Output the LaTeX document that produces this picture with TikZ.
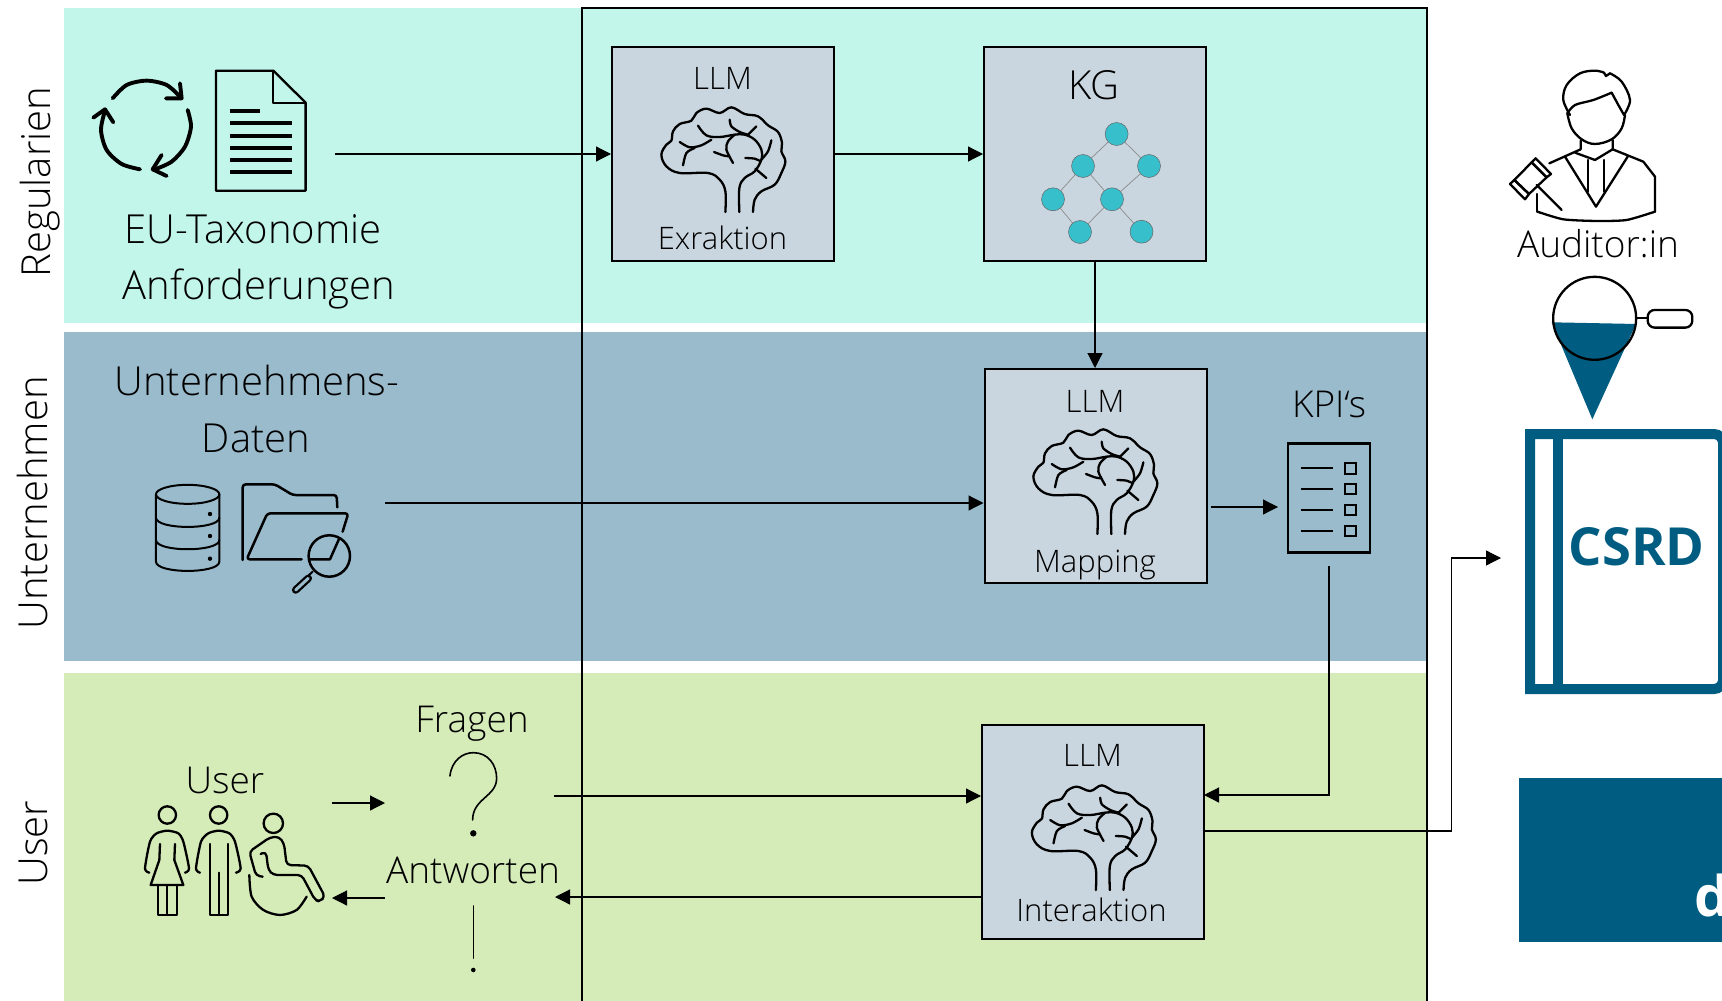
\documentclass[tikz,border=0pt]{standalone}
\usepackage{fontspec}
\setmainfont{Open Sans}[UprightFont=* Light,BoldFont=* Bold]
\usetikzlibrary{arrows.meta,  % arrow tips
  positioning}
\definecolor{regband}{HTML}{C3F6EA}
\definecolor{compband}{HTML}{9ABBCC}
\definecolor{userband}{HTML}{D5ECB9}
\definecolor{boxfill}{HTML}{C9D6DF}
\definecolor{csrdblue}{HTML}{005C80}
\definecolor{kgcyan}{HTML}{38BFCC}

\tikzset{
  % drawn in the pixels of a 3x crop
  zoomed/.style={x=.3333pt,y=-.3333pt},
  icon/.style={line width=2.3pt,line join=round,line cap=round},
  brain/.pic={
    \begin{scope}[zoomed,shift={(-350,-360)},icon,line width=2.3pt]
      \draw plot[smooth,tension=.6] coordinates {(352,522) (352,460) (335,425) (300,405) (215,405) (175,385) (160,350) (175,320) (190,308) (195,280) (215,258) (250,248) (265,225) (295,212) (335,225) (370,208) (410,228) (450,235) (480,262) (510,282) (522,315) (520,340) (532,370) (520,405) (500,440) (460,460) (440,485) (435,522)};
      \draw plot[smooth,tension=.6] coordinates {(394,522) (394,450) (410,420) (440,400) (460,365) (460,335) (440,305) (410,290) (380,290) (335,297) (295,292) (270,263)};
      \draw plot[smooth] coordinates {(380,290) (360,310) (355,335) (375,375)};
      \draw plot[smooth] coordinates {(318,342) (345,352) (362,355)};
      \draw plot[smooth] coordinates {(365,245) (370,265) (395,282) (420,290)};
      \draw (420,290) -- (445,265);
      \draw plot[smooth] coordinates {(490,307) (480,340) (460,365)};
      \draw plot[smooth] coordinates {(412,360) (440,362) (458,370)};
      \draw (442,392) -- (475,420);
      \draw plot[smooth] coordinates {(215,312) (245,328) (280,322) (310,305)};
      \draw plot[smooth] coordinates {(260,330) (235,345) (225,382)};
    \end{scope}
  }
}

\begin{document}
\begin{tikzpicture}[x=1pt,y=-1pt,>={Triangle[length=15pt,width=15pt]},
  % styles for the boxes, labels and arrows
  box/.style={draw=black,fill=boxfill,line width=2pt,minimum width=222pt,minimum height=214pt,inner sep=0pt},
  big/.style={anchor=base,inner sep=0pt,text=black,font=\fontsize{40}{46}\selectfont},
  mid/.style={anchor=base,inner sep=0pt,text=black,font=\fontsize{37}{43}\selectfont},
  small/.style={anchor=base,inner sep=0pt,text=black,font=\fontsize{31}{37}\selectfont},
  side/.style={rotate=90,inner sep=0pt,text=black,font=\fontsize{40}{46}\selectfont},
  flow/.style={->,line width=1.2pt,draw=black},
  graphnode/.style={circle,draw=black!60,fill=kgcyan,line width=.5pt,minimum size=23pt,inner sep=0pt},
  graphedge/.style={draw=black!45,line width=.7pt}]

  \useasboundingbox (0,0) rectangle (1722,1001);

  \fill[regband] (64,8) rectangle (1427,323);
  \fill[compband] (64,332) rectangle (1427,661);
  \fill[userband] (64,673) rectangle (1427,1001);
  \draw[line width=2.4pt] (582,1001) |- (1427,8) -- (1427,1001);

  \node[side] (reglabel) at (40,182) {Regularien};
  \node[side] (complabel) at (32,503) {Unternehmen};
  \node[side] (userlabel) at (33,843) {User};

  % the three rows of boxes
  \node[box] (extract) at (723,154) {};
  \node[box] (kg) at (1095,154) {};
  \node[box] (mapping) at (1095.5,476) {};
  \node[box] (interact) at (1093,831.5) {};
  \node[draw,line width=2.3pt,minimum width=82pt,minimum height=109pt,inner sep=0pt] (kpi) at (1329,498) {};

  \node[small] (llmA) at (722.5,89) {LLM};
  \node[small] (extractlabel) at (722.5,249) {Exraktion};
  \node[big] (kglabel) at (1094,99) {KG};
  \node[small] (llmB) at (1095,412) {LLM};
  \node[small] (maplabel) at (1095,572) {Mapping};
  \node[small] (llmC) at (1092.5,766.5) {LLM};
  \node[small] (interlabel) at (1091.5,921) {Interaktion};
  \node[mid] (kpilabel) at (1329,417) {KPI‘s};

  \node[big] (eulabel) at (253,243) {EU-Taxonomie};
  \node[big] (anflabel) at (259,299) {Anforderungen};
  \node[big] (datalabelA) at (257,395) {Unternehmens-};
  \node[big] (datalabelB) at (256,452) {Daten};
  \node[mid] (userword) at (225,793) {User};
  \node[mid] (fragenlabel) at (472,732) {Fragen};
  \node[mid] (antlabel) at (473,883) {Antworten};
  \node[mid] (auditorlabel) at (1598,257) {Auditor:in};

  \pic (brainA) at (724.7,158) {brain};
  \pic (brainB) at (1096.7,480) {brain};
  \pic (brainC) at (1095.2,836) {brain};

  % knowledge graph
  \node[graphnode] (g1) at (1116.6,134) {};
  \node[graphnode] (g2) at (1083,166) {};
  \node[graphnode] (g3) at (1149,166) {};
  \node[graphnode] (g4) at (1053,199.3) {};
  \node[graphnode] (g5) at (1112,199.3) {};
  \node[graphnode] (g6) at (1080,232) {};
  \node[graphnode] (g7) at (1141.5,231.7) {};
  \draw[graphedge] (g1) -- (g2);
  \draw[graphedge] (g1) -- (g3);
  \draw[graphedge] (g2) -- (g4);
  \draw[graphedge] (g2) -- (g5);
  \draw[graphedge] (g3) -- (g5);
  \draw[graphedge] (g4) -- (g6);
  \draw[graphedge] (g5) -- (g6);
  \draw[graphedge] (g5) -- (g7);

  % free ends of the connectors
  \coordinate (regout) at (335,154);
  \coordinate (dataout) at (385,503);
  \coordinate (mapout) at (1210.7,507);
  \coordinate (kpiin) at (1278,507);
  \coordinate (kpiout) at (1329,566);
  \coordinate (fragenout) at (554,796);
  \coordinate (antin) at (555,897);
  \coordinate (userout) at (331.7,803);
  \coordinate (fragenin) at (385,803);
  \coordinate (antout) at (385,898);
  \coordinate (userin) at (332,898);
  \coordinate (interout) at (1204,831);
  \coordinate (csrdin) at (1501,558);

  \draw[flow] (regout) -- (regout -| extract.west);
  \draw[flow] (extract.east) -- (kg.west);
  \draw[flow] (kg.south) -- (kg.south |- mapping.north);
  \draw[flow] (dataout) -- (dataout -| mapping.west);
  \draw[flow] (mapout) -- (kpiin);
  \draw[flow] (kpiout) |- (1204,795);
  \draw[flow] (fragenout) -- (fragenout -| interact.west);
  \draw[flow] (antin -| interact.west) -- (antin);
  \draw[flow] (userout) -- (fragenin);
  \draw[flow] (antout) -- (userin);
  \draw[flow] (interout) -- (1451.5,831) |- (csrdin);

  % recycling arrows
  \begin{scope}[shift={(60,40)},zoomed,icon,line width=3.9pt]
    \draw plot[smooth] coordinates {(158,175) (200,135) (260,122) (320,135) (362,172)};
    \draw (360,130) -- (365,175) -- (318,175);
    \draw plot[smooth] coordinates {(383,210) (393,260) (375,320) (335,365) (285,388)};
    \draw (305,345) -- (278,388) -- (320,408);
    \draw plot[smooth] coordinates {(240,388) (185,372) (140,330) (123,270) (135,212)};
    \draw (100,233) -- (135,208) -- (160,247);
  \end{scope}

  % document
  \begin{scope}[shift={(60,40)},zoomed,icon,line cap=butt]
    \draw (468,92) -- (640,92) -- (737,188) -- (737,452) -- (468,452) -- cycle;
    \draw (640,92) -- (640,188) -- (737,188);
    \draw[line width=3.6pt] (510,213) -- (600,213);
    \draw[line width=3.6pt] (510,249) -- (696,249);
    \draw[line width=3.6pt] (510,288) -- (696,288);
    \draw[line width=3.6pt] (510,324) -- (696,324);
    \draw[line width=3.6pt] (510,360) -- (696,360);
    \draw[line width=3.6pt] (510,396) -- (696,396);
  \end{scope}

  % database and folder
  \begin{scope}[shift={(130,470)},zoomed,icon,line width=2pt]
    \draw (173,73) ellipse [x radius=31.7pt,y radius=9.5pt];
    \draw (78,73) -- (78,275) .. controls (78,312) and (268,312) .. (268,275) -- (268,73);
    \draw (78,143) .. controls (78,180) and (268,180) .. (268,143);
    \draw (78,210) .. controls (78,247) and (268,247) .. (268,210);
    \fill (240,132) circle [radius=2.2pt];
    \fill (240,198) circle [radius=2.2pt];
    \fill (240,266) circle [radius=2.2pt];
    \draw[line width=2.5pt,rounded corners=3pt] (338,270) -- (338,43) -- (435,43) -- (488,75) -- (620,75) -- (622,112);
    \draw[line width=2.5pt,rounded corners=3pt] (515,268) -- (350,268) -- (412,130) -- (655,130) -- (638,185);
    \draw[line width=2.5pt] (540,268) -- (600,268) -- (628,205);
    \draw[line width=2.5pt] (598,258) circle [radius=20.7pt];
    \draw[line width=2pt] (548,305) -- (534,318);
    \draw[line width=7.5pt] (535,325) -- (497,360);
    \draw[compband,line width=3pt] (535,325) -- (497,360);
  \end{scope}

  % people
  \begin{scope}[shift={(130,700)},zoomed,icon]
    \draw (112,345) circle [radius=8.7pt];
    \draw plot[smooth,tension=.4] coordinates {(58,518) (45,505) (60,425) (80,400) (112,392) (145,400) (160,425) (177,505) (165,518)};
    \draw (90,432) -- (88,480) -- (62,555) -- (160,555) -- (133,480) -- (135,432);
    \draw (85,555) -- (85,645) -- (140,645) -- (140,555);
    \draw (112,555) -- (112,645);
    \draw (266,345) circle [radius=8.7pt];
    \draw plot[smooth,tension=.4] coordinates {(210,518) (198,505) (213,425) (235,400) (266,392) (298,400) (315,425) (332,505) (318,518)};
    \draw (240,432) -- (240,645) -- (295,645) -- (295,432);
    \draw (266,518) -- (266,645);
    \draw (430,370) circle [radius=9.7pt];
    \draw[rounded corners=4pt] (398,530) -- (378,527) -- (358,455) -- (420,412) -- (447,410) -- (462,430) -- (470,495) -- (535,497) -- (585,590) -- (570,605) -- (555,600) -- (515,525) -- (430,525) -- (415,510) -- (408,455) -- (392,462);
    \draw plot[smooth] coordinates {(358,525) (365,590) (400,630) (450,645) (500,630) (530,590)};
  \end{scope}

  % question and exclamation mark
  \begin{scope}[shift={(130,700)},zoomed,icon,line width=1.6pt]
    \draw (960,228) .. controls (965,180) and (1000,158) .. (1030,158) .. controls (1075,158) and (1100,195) .. (1100,235) .. controls (1100,290) and (1028,295) .. (1028,360);
    \fill (1030,400) circle [radius=3.2pt];
    \draw (1030,618) -- (1030,775);
    \fill (1030,810) circle [radius=2.3pt];
  \end{scope}

  % KPI list
  \begin{scope}[shift={(980,360)},zoomed,line width=1.9pt]
    \draw (963,325) -- (1060,325);
    \draw (963,387) -- (1060,387);
    \draw (963,450) -- (1060,450);
    \draw (963,513) -- (1060,513);
    \draw (1096,309) rectangle (1129,341);
    \draw (1096,371) rectangle (1129,403);
    \draw (1096,434) rectangle (1129,466);
    \draw (1096,497) rectangle (1129,529);
  \end{scope}

  % auditor
  \begin{scope}[shift={(1480,50)},zoomed,icon]
    \draw plot[smooth,tension=.6] coordinates {(270,195) (250,150) (260,105) (300,70) (345,62) (372,68)};
    \draw (372,68) -- (378,78) -- (390,70);
    \draw plot[smooth,tension=.6] coordinates {(390,70) (425,95) (450,150) (432,195)};
    \draw plot[smooth,tension=.5] coordinates {(262,190) (285,165) (340,150) (395,128)};
    \draw (395,128) -- (415,165) -- (432,195);
    \draw plot[smooth,tension=.6] coordinates {(262,190) (275,235) (305,268) (345,282) (395,268) (425,235) (435,195)};
    \draw (302,272) -- (302,298) -- (208,340);
    \draw (398,270) -- (398,298) -- (345,330) -- (285,308);
    \draw (398,298) -- (490,335) -- (525,380) -- (525,485);
    \draw (255,320) -- (348,470) -- (443,320);
    \draw (325,330) -- (325,425);
    \draw (372,330) -- (372,425);
    \draw plot[smooth,tension=.4] coordinates {(525,485) (440,510) (350,513) (250,508) (172,485)};
    \draw (172,485) -- (172,432);
    \draw (167,325) -- (213,372) -- (200,382) -- (155,337) -- cycle;
    \draw (155,337) -- (200,382) -- (147,432) -- (103,390) -- cycle;
    \draw (103,390) -- (147,432) -- (135,448) -- (90,402) -- cycle;
    \draw (170,405) -- (245,480);
  \end{scope}

  % magnifier over the report
  \begin{scope}[shift={(1480,50)},zoomed,icon]
    \fill[csrdblue] (215,817) -- (468,822) -- (337,1108) -- cycle;
    \draw (344,805) circle [radius=41.5pt];
    \draw (468,805) -- (503,805);
    \draw[rounded corners=7pt] (503,780) rectangle (637,833);
  \end{scope}

  % report
  \draw[csrdblue,line width=10pt] (1530,434) -- (1600,434) [rounded corners=9pt] -- (1723,434) -- (1723,689) -- (1600,689) [sharp corners] -- (1530,689) -- cycle;
  \draw[csrdblue,line width=10pt] (1557.7,434) -- (1557.7,689);
  \node[anchor=base,inner sep=0pt,text=csrdblue,font=\fontsize{52.5}{60}\selectfont\bfseries] (csrdlabel) at (1636.7,565.5) {CSRD};

  \fill[csrdblue] (1519,778) rectangle (1730,942);
  \node[anchor=base west,inner sep=0pt,text=white,font=\fontsize{56}{64}\selectfont\bfseries] (cutlabel) at (1694,916) {d};
\end{tikzpicture}
\end{document}
